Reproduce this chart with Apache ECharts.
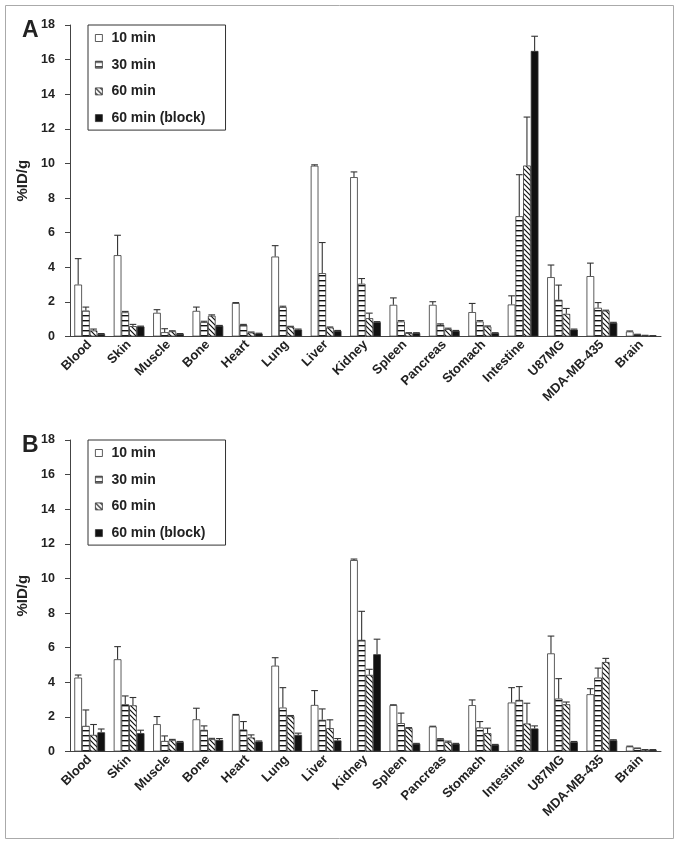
<!DOCTYPE html>
<html><head><meta charset="utf-8">
<script src="https://cdn.jsdelivr.net/npm/echarts@6/dist/echarts.min.js"></script>
<style>html,body{margin:0;padding:0;background:#fff}#c{width:682px;height:844px}</style>
</head><body><div id="c"></div>
<script>
var categories = ['Blood','Skin','Muscle','Bone','Heart','Lung','Liver','Kidney','Spleen','Pancreas','Stomach','Intestine','U87MG','MDA-MB-435','Brain'];
var seriesNames = ['10 min','30 min','60 min','60 min (block)'];
var yTicks = [0,2,4,6,8,10,12,14,16,18];

var a10 = [3.0, 4.7, 1.37, 1.48, 1.93, 4.62, 9.87, 9.21, 1.83, 1.83, 1.41, 1.85, 3.43, 3.49, 0.29];
var a10sd = [1.5, 1.15, 0.18, 0.22, 0.03, 0.63, 0.05, 0.3, 0.4, 0.18, 0.5, 0.5, 0.7, 0.75, 0.03];
var a30 = [1.5, 1.4, 0.25, 0.83, 0.67, 1.7, 3.66, 3.05, 0.87, 0.68, 0.87, 6.95, 2.12, 1.66, 0.12];
var a30sd = [0.2, 0.05, 0.2, 0.05, 0.03, 0.05, 1.77, 0.3, 0.05, 0.05, 0.05, 2.4, 0.85, 0.3, 0.01];
var a60 = [0.35, 0.6, 0.3, 1.2, 0.23, 0.56, 0.52, 1.06, 0.2, 0.43, 0.58, 9.88, 1.31, 1.49, 0.06];
var a60sd = [0.08, 0.1, 0.03, 0.05, 0.03, 0.03, 0.03, 0.29, 0.02, 0.05, 0.03, 2.8, 0.31, 0.03, 0.01];
var aBlock = [0.15, 0.58, 0.15, 0.62, 0.17, 0.4, 0.33, 0.83, 0.2, 0.33, 0.2, 16.5, 0.4, 0.79, 0.04];
var aBlocksd = [0.02, 0.02, 0.02, 0.02, 0.02, 0.03, 0.02, 0.03, 0.02, 0.02, 0.02, 0.85, 0.03, 0.03, 0.01];

var b10 = [4.27, 5.33, 1.58, 1.86, 2.11, 4.96, 2.69, 11.06, 2.68, 1.44, 2.68, 2.83, 5.67, 3.31, 0.29];
var b10sd = [0.15, 0.73, 0.44, 0.64, 0.03, 0.46, 0.83, 0.06, 0.02, 0.02, 0.3, 0.86, 1.0, 0.32, 0.02];
var b30 = [1.48, 2.73, 0.61, 1.25, 1.27, 2.54, 1.83, 6.45, 1.64, 0.71, 1.39, 2.98, 3.06, 4.27, 0.19];
var b30sd = [0.92, 0.48, 0.29, 0.23, 0.46, 1.15, 0.63, 1.65, 0.58, 0.03, 0.34, 0.77, 1.15, 0.55, 0.01];
var b60 = [0.96, 2.67, 0.65, 0.71, 0.81, 2.05, 1.35, 4.43, 1.35, 0.54, 1.06, 1.62, 2.73, 5.17, 0.1];
var b60sd = [0.6, 0.45, 0.05, 0.05, 0.15, 0.03, 0.48, 0.32, 0.03, 0.06, 0.29, 1.17, 0.13, 0.21, 0.01];
var bBlock = [1.11, 1.06, 0.55, 0.67, 0.58, 0.96, 0.64, 5.62, 0.45, 0.45, 0.39, 1.33, 0.55, 0.65, 0.1];
var bBlocksd = [0.19, 0.17, 0.03, 0.08, 0.03, 0.1, 0.11, 0.87, 0.02, 0.02, 0.02, 0.15, 0.03, 0.03, 0.01];

function makeHoriz(){
  var c = document.createElement('canvas'); c.width = 8; c.height = 5;
  var x = c.getContext('2d'); x.fillStyle = '#fff'; x.fillRect(0,0,8,5);
  x.fillStyle = '#111'; x.fillRect(0,0,8,1.4); return c;
}
function makeDiag(){
  var c = document.createElement('canvas'); c.width = 5; c.height = 5;
  var x = c.getContext('2d'); x.fillStyle = '#fff'; x.fillRect(0,0,5,5);
  x.strokeStyle = '#111'; x.lineWidth = 1.2;
  x.beginPath(); x.moveTo(-1,-1); x.lineTo(6,6); x.moveTo(-1,4); x.lineTo(1,6); x.moveTo(4,-1); x.lineTo(6,1); x.stroke();
  return c;
}
var fills = ['#ffffff', {image: makeHoriz(), repeat: 'repeat'}, {image: makeDiag(), repeat: 'repeat'}, '#111111'];
var GAP = 0.22;

var panels = [
  {vals: [a10, a30, a60, aBlock], sds: [a10sd, a30sd, a60sd, aBlocksd]},
  {vals: [b10, b30, b60, bBlock], sds: [b10sd, b30sd, b60sd, bBlocksd]}
];

var series = [];
panels.forEach(function(p, pi){
  p.vals.forEach(function(v, si){
    series.push({
      type: 'bar', name: seriesNames[si], xAxisIndex: pi, yAxisIndex: pi,
      data: v, barGap: '0%', barCategoryGap: (GAP*100)+'%',
      itemStyle: {color: fills[si], borderColor: '#333', borderWidth: 0.8},
      emphasis: {disabled: true}, animation: false
    });
  });
  p.vals.forEach(function(v, si){
    var d = v.map(function(val, i){ return [i, val, p.sds[si][i]]; });
    series.push({
      type: 'custom', xAxisIndex: pi, yAxisIndex: pi, data: d, z: 5, animation: false, silent: true,
      renderItem: function(params, api){
        var band = api.size([1,0])[0];
        var bw = band*(1-GAP)/4;
        var off = -2*bw + (si+0.5)*bw;
        var base = api.coord([api.value(0), api.value(1)]);
        var top = api.coord([api.value(0), api.value(1)+api.value(2)]);
        var x = base[0] + off;
        var half = bw/2 - 0.5;
        var st = {stroke: '#333', lineWidth: 1.1};
        return {type: 'group', children: [
          {type: 'line', shape: {x1: x, y1: base[1], x2: x, y2: top[1]}, style: st},
          {type: 'line', shape: {x1: x-half, y1: top[1], x2: x+half, y2: top[1]}, style: st}
        ]};
      }
    });
  });
});

var gridTops = [25, 440];
var font = 'Arial, "Liberation Sans", sans-serif';
var option = {
  animation: false,
  title: [
    {text: 'A', left: 17, top: 14, textStyle: {fontSize: 23, fontWeight: 'bold', color: '#222', fontFamily: font}},
    {text: 'B', left: 17, top: 429, textStyle: {fontSize: 23, fontWeight: 'bold', color: '#222', fontFamily: font}}
  ],
  graphic: [{type: 'rect', shape: {x: 5.5, y: 5.5, width: 668, height: 833}, style: {fill: 'none', stroke: '#aaa', lineWidth: 1}, silent: true}],
  legend: gridTops.map(function(t){
    return {
      data: seriesNames.map(function(n){ return {name: n, icon: 'rect'}; }),
      orient: 'vertical', left: 88, top: t, itemWidth: 7, itemHeight: 7, itemGap: 10.7,
      borderColor: '#333', borderWidth: 1, padding: [5, 20, 4, 7], selectedMode: false,
      textStyle: {fontSize: 14, fontWeight: 'bold', color: '#222', fontFamily: font, lineHeight: 16, padding: [0, 0, 0, 4]},
      itemStyle: {borderColor: '#333', borderWidth: 0.8}
    };
  }),
  grid: gridTops.map(function(t){ return {left: 70, right: 21, top: t, height: 311.5, containLabel: false}; }),
  xAxis: gridTops.map(function(t, i){
    return {type: 'category', gridIndex: i, data: categories,
      axisLine: {lineStyle: {color: '#444', width: 1}}, axisTick: {show: false},
      axisLabel: {rotate: 45, interval: 0, margin: 6, fontSize: 13, fontWeight: 'bold', color: '#222', fontFamily: font}};
  }),
  yAxis: gridTops.map(function(t, i){
    return {type: 'value', gridIndex: i, min: yTicks[0], max: yTicks[yTicks.length-1], interval: 2,
      name: '%ID/g', nameLocation: 'middle', nameGap: 37, nameRotate: 90,
      nameTextStyle: {fontSize: 15, fontWeight: 'bold', color: '#222', fontFamily: font},
      axisLine: {show: true, lineStyle: {color: '#444', width: 1}},
      axisTick: {show: true, length: 5, lineStyle: {color: '#444'}},
      splitLine: {show: false},
      axisLabel: {fontSize: 12.5, fontWeight: 'bold', color: '#222', fontFamily: font, margin: 15}};
  }),
  series: series
};
var chart = echarts.init(document.getElementById('c'), null, {renderer: 'canvas'});
chart.setOption(option);
</script></body></html>
